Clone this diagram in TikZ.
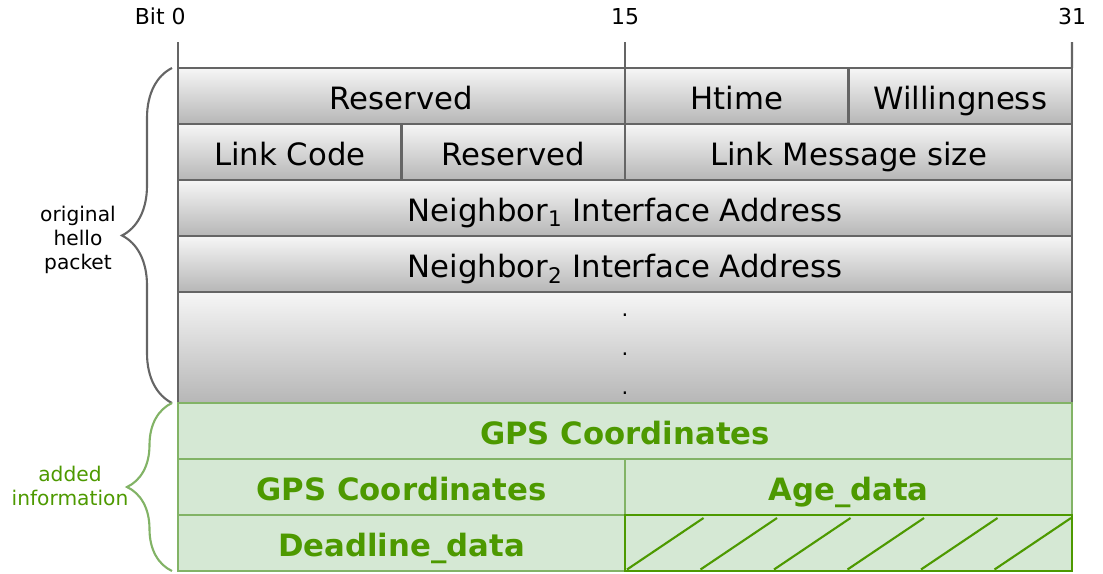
\documentclass[tikz,border=0pt]{standalone}
\usepackage{fontspec}
\setmainfont{DejaVu Sans}
\usetikzlibrary{decorations.pathreplacing}
\definecolor{fieldline}{HTML}{656565}
\definecolor{addfill}{HTML}{D5E8D4}
\definecolor{addline}{HTML}{82B366}
\definecolor{addtext}{HTML}{4D9900}
\tikzset{
  field/.style={draw=fieldline, line width=1.5pt, top color=gray!7, bottom color=gray!57,
    anchor=north west, inner sep=0pt, outer sep=0pt, minimum height=1.12cm,
    text height=16.5pt, text depth=1pt, font=\fontsize{17.5}{20}\selectfont},
  added/.style={field, draw=addline, top color=addfill, bottom color=addfill, text=addtext,
    font=\fontsize{17.5}{20}\selectfont\bfseries},
  bitlbl/.style={inner sep=0pt, font=\fontsize{12.5}{14}\selectfont},
  sidelbl/.style={align=center, inner sep=0pt, font=\fontsize{11.5}{13.5}\selectfont},
  tick/.style={draw=fieldline, line width=1.2pt},
  hatch/.style={draw=addtext, line width=1.2pt}
}
\begin{document}
\begin{tikzpicture}
\useasboundingbox (0,0) rectangle (22.06,-11.46);
% original hello packet
\node (res1)  at ( 3.56,-1.36) [field, minimum width=8.94cm] {Reserved};
\node (htime) at (12.50,-1.36) [field, minimum width=4.47cm] {Htime};
\node (will)  at (16.97,-1.36) [field, minimum width=4.47cm] {Willingness};
\node (lcode) at ( 3.56,-2.48) [field, minimum width=4.47cm] {Link Code};
\node (res2)  at ( 8.03,-2.48) [field, minimum width=4.47cm] {Reserved};
\node (lsize) at (12.50,-2.48) [field, minimum width=8.94cm] {Link Message size};
\node (nb1)   at ( 3.56,-3.60) [field, minimum width=17.88cm] {Neighbor\textsubscript{1} Interface Address};
\node (nb2)   at ( 3.56,-4.72) [field, minimum width=17.88cm] {Neighbor\textsubscript{2} Interface Address};
\node (more)  at ( 3.56,-5.84) [field, minimum width=17.88cm, minimum height=2.22cm,
  text height={}, text depth={}, align=center, font=\fontsize{12}{22}\selectfont]
  {\rule{0pt}{9pt}.\\.\\.};
% added information
\node (gps1)  at ( 3.56,-8.06) [added, minimum width=17.88cm] {GPS Coordinates};
\node (gps2)  at ( 3.56,-9.18) [added, minimum width=8.94cm] {GPS Coordinates};
\node (age)   at (12.50,-9.18) [added, minimum width=8.94cm] {Age\_data};
\node (dead)  at ( 3.56,-10.30) [added, minimum width=8.94cm] {Deadline\_data};
\node (pad)   at (12.50,-10.30) [added, draw=addtext, minimum width=8.94cm] {};
\foreach \i in {0,...,5}
  \draw[hatch] ([xshift=\i*1.47cm+0.04cm, yshift=0.03cm]pad.south west) -- ++(1.53,1.03);
% bit positions
\coordinate (t0)  at ( 3.56,-0.84);
\coordinate (t15) at (12.50,-0.84);
\coordinate (t31) at (21.44,-0.84);
\node (b0)  at ( 3.72,-0.33) [bitlbl, anchor=east] {Bit 0};
\node (b15) at (12.50,-0.33) [bitlbl] {15};
\node (b31) at (21.44,-0.33) [bitlbl] {31};
\draw[tick] (t0) -- (res1.north west);
\draw[tick] (t15) -- (htime.north west);
\draw[tick] (t31) -- (will.north east);
% braces
\draw[decorate, decoration={brace, amplitude=1.0cm}, fieldline, line width=1.2pt]
  ([xshift=-0.12cm]more.south west) -- ([xshift=-0.12cm]res1.north west);
\draw[decorate, decoration={brace, amplitude=0.9cm}, addline, line width=1.2pt]
  ([xshift=-0.12cm]dead.south west) -- ([xshift=-0.12cm]gps1.north west);
\node (orig) at (1.56,-4.80) [sidelbl] {original\\hello\\packet};
\node (addi) at (1.40,-9.72) [sidelbl, text=addtext] {added\\information};
\end{tikzpicture}
\end{document}
